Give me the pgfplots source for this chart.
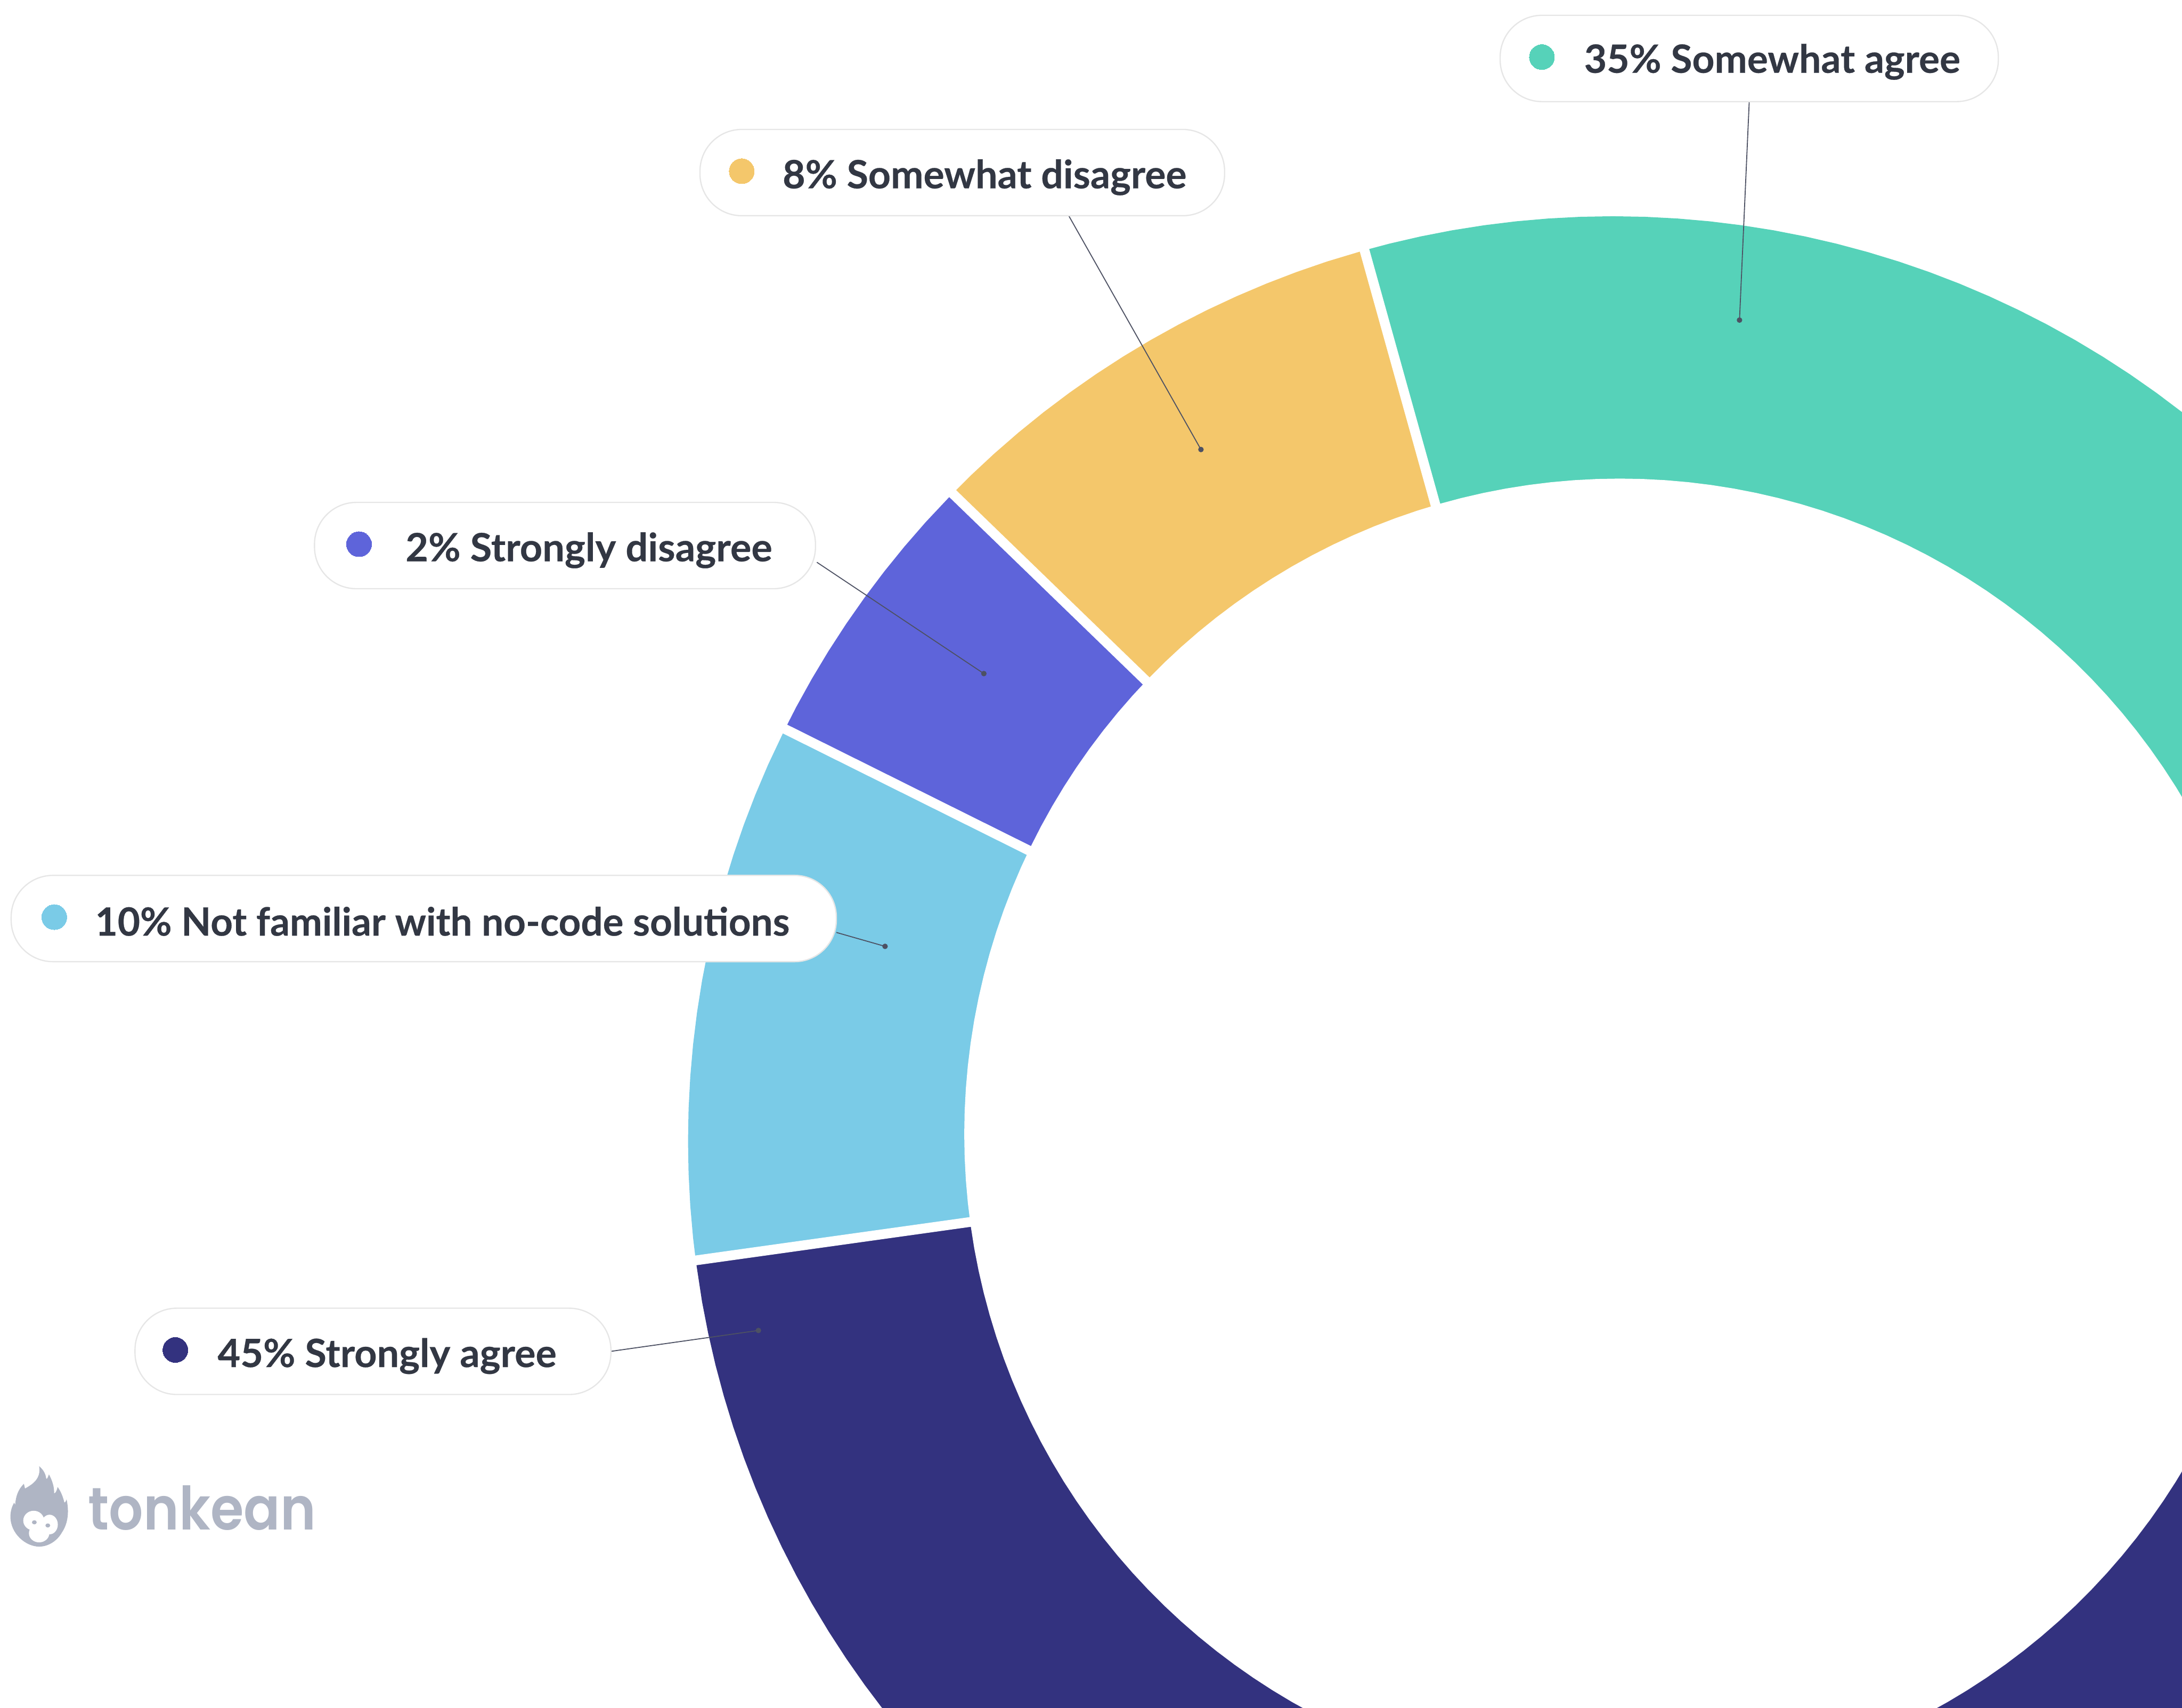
\documentclass[border=0pt]{standalone}
\usepackage{pgfplots}
\usepackage{fontspec}
\pgfplotsset{compat=1.18}
\newfontfamily\lab{Lato}[UprightFont=* Bold, UprightFeatures={FakeBold=0.35}]
\newfontfamily\brand{Poppins}[UprightFont=* SemiBold]
\definecolor{cGreen}{HTML}{56D2B9}
\definecolor{cYellow}{HTML}{F4C76B}
\definecolor{cBlue}{HTML}{5E64DA}
\definecolor{cLight}{HTML}{7ACBE7}
\definecolor{cNavy}{HTML}{33327F}
\definecolor{cText}{HTML}{323743}
\definecolor{cLeader}{HTML}{4D5163}
\definecolor{cPill}{HTML}{E6E6E6}
\definecolor{cBrand}{HTML}{AFB5C4}
\pgfplotsset{
  canvas/.style={
    at={(0,0)}, anchor=south west, scale only axis,
    width=784pt, height=613.5pt, hide axis, clip=true
  },
  slice/.style={draw=none, fill=#1, mark=none, data cs=polar},
  leader/.style={cLeader, line width=0.35pt, mark=*, mark indices={2},
    mark size=0.8pt, mark options={fill=cLeader, draw=cLeader}},
  swatch/.style={only marks, color=#1, mark=*, mark size=4.5pt,
    mark options={fill=#1, draw=#1, line width=0pt}},
  gap/.style={white, line width=3.5pt, mark=none}
}
% pill: left, top, right, bottom
\newcommand{\pill}[4]{\draw[cPill, fill=white, line width=0.45pt, rounded corners=15pt]
  (axis cs:#1,#2) rectangle (axis cs:#3,#4);}
% label: left, baseline, horizontal scale, text
\newcommand{\pilltext}[4]{\node[anchor=base west, inner sep=0pt, text=cText]
  at (axis cs:#1,#2) {\scalebox{#3}[1]{\lab\fontsize{14pt}{16pt}\selectfont #4}};}
\begin{document}
\begin{tikzpicture}
\path[use as bounding box] (0,0) rectangle (784pt,613.5pt);
% ring sectors, angle and radius about the outer circle's centre
\begin{axis}[canvas, xmin=-1159, xmax=409, ymin=-407, ymax=820]
\addplot[slice=cGreen] coordinates {
 (105.69,664.6)(104,664.6)(102,664.6)(100,664.6)(98,664.6)(96,664.6)(94,664.6)(92,664.6)(90,664.6)(88,664.6)(86,664.6)(84,664.6)(82,664.6)(80,664.6)(78,664.6)(76,664.6)(74,664.6)(72,664.6)(70,664.6)(68,664.6)(66,664.6)(64,664.6)(62,664.6)(60,664.6)(58,664.6)(56,664.6)(54,664.6)(52,664.6)(50,664.6)(48,664.6)(45,664.6)(42,664.6)(39,664.6)(36,664.6)(33,664.6)(30,664.6)(27,664.6)(24,664.6)(21,664.6)(18,664.6)(15,664.6)(12,664.6)(9,664.6)(6,664.6)(3,664.6)(0,664.6)(-3,664.6)(-6,664.6)(-9,664.6)(-12,664.6)(-15,664.6)
 (-15,400)(5,400)(25,400)(45,400)(65,400)(85,400)(105.69,400)} --cycle;
\addplot[slice=cYellow] coordinates {
 (135.67,664.6)(134,664.6)(132,664.6)(130,664.6)(128,664.6)(126,664.6)(124,664.6)(122,664.6)(120,664.6)(118,664.6)(116,664.6)(114,664.6)(112,664.6)(110,664.6)(108,664.6)(105.69,664.6)
 (105.69,400)(120,400)(135.67,400)} --cycle;
\addplot[slice=cBlue] coordinates {
 (153.65,664.6)(152,664.6)(150,664.6)(148,664.6)(146,664.6)(144,664.6)(142,664.6)(140,664.6)(138,664.6)(135.67,664.6)
 (135.67,400)(153.65,400)} --cycle;
\addplot[slice=cLight] coordinates {
 (187.48,664.6)(186,664.6)(184,664.6)(182,664.6)(180,664.6)(178,664.6)(176,664.6)(174,664.6)(172,664.6)(170,664.6)(168,664.6)(166,664.6)(164,664.6)(162,664.6)(160,664.6)(158,664.6)(156,664.6)(153.65,664.6)
 (153.65,400)(170,400)(187.48,400)} --cycle;
\addplot[slice=cNavy] coordinates {
 (345,664.6)(342,664.6)(339,664.6)(336,664.6)(333,664.6)(330,664.6)(327,664.6)(324,664.6)(321,664.6)(318,664.6)(315,664.6)(312,664.6)(309,664.6)(306,664.6)(303,664.6)(300,664.6)(297,664.6)(294,664.6)(291,664.6)(288,664.6)(285,664.6)(282,664.6)(279,664.6)(276,664.6)(273,664.6)(270,664.6)(267,664.6)(264,664.6)(261,664.6)(258,664.6)(255,664.6)(252,664.6)(249,664.6)(246,664.6)(243,664.6)(240,664.6)(237,664.6)(234,664.6)(231,664.6)(228,664.6)(225,664.6)(222,664.6)(220,664.6)(218,664.6)(216,664.6)(214,664.6)(212,664.6)(210,664.6)(208,664.6)(206,664.6)(204,664.6)(202,664.6)(200,664.6)(198,664.6)(196,664.6)(194,664.6)(192,664.6)(190,664.6)(187.48,664.6)
 (187.48,400)(205,400)(225,400)(245,400)(265,400)(285,400)(305,400)(325,400)(345,400)} --cycle;
\end{axis}
% the hole, about its own centre
\begin{axis}[canvas, xmin=-1164, xmax=404, ymin=-412, ymax=815]
\addplot[slice=white] coordinates {
 (0,471.1)(10,471.1)(20,471.1)(26,471.1)(28,471.1)(30,471.1)(32,471.1)(34,471.1)(36,471.1)(38,471.1)(40,471.1)(42,471.1)(44,471.1)(46,471.1)(48,471.1)(50,471.1)(52,471.1)(54,471.1)(56,471.1)(58,471.1)(60,471.1)(62,471.1)(64,471.1)(66,471.1)(68,471.1)(70,471.1)(72,471.1)(74,471.1)(76,471.1)(78,471.1)(80,471.1)(82,471.1)(84,471.1)(86,471.1)(88,471.1)(90,471.1)(92,471.1)(94,471.1)(96,471.1)(98,471.1)(100,471.1)(102,471.1)(104,471.1)(106,471.1)(108,471.1)(110,471.1)(112,471.1)(114,471.1)(116,471.1)(118,471.1)(120,471.1)(122,471.1)(124,471.1)(126,471.1)(128,471.1)(130,471.1)(132,471.1)(134,471.1)(136,471.1)(138,471.1)(140,471.1)(142,471.1)(144,471.1)(146,471.1)(148,471.1)(150,471.1)(152,471.1)(154,471.1)(156,471.1)(158,471.1)(160,471.1)(162,471.1)(164,471.1)(166,471.1)(168,471.1)(170,471.1)(172,471.1)(174,471.1)(176,471.1)(178,471.1)
 (180,471.1)(182,471.1)(184,471.1)(186,471.1)(188,471.1)(190,471.1)(192,471.1)(194,471.1)(196,471.1)(198,471.1)(200,471.1)(202,471.1)(204,471.1)(206,471.1)(208,471.1)(210,471.1)(212,471.1)(214,471.1)(216,471.1)(218,471.1)(220,471.1)(222,471.1)(224,471.1)(226,471.1)(228,471.1)(230,471.1)(232,471.1)(234,471.1)(236,471.1)(238,471.1)(240,471.1)(242,471.1)(244,471.1)(250,471.1)(260,471.1)(270,471.1)(280,471.1)(290,471.1)(296,471.1)(298,471.1)(300,471.1)(302,471.1)(304,471.1)(306,471.1)(308,471.1)(310,471.1)(312,471.1)(314,471.1)(316,471.1)(318,471.1)(320,471.1)(322,471.1)(324,471.1)(326,471.1)(328,471.1)(330,471.1)(332,471.1)(334,471.1)(340,471.1)(350,471.1)} --cycle;
\end{axis}
% separators, leaders, pills and labels on one flat canvas
\begin{axis}[canvas, xmin=0, xmax=1568, ymin=0, ymax=1227, y dir=reverse]
\addplot[gap] coordinates {(490.3,907)(707.5,876.6)};
\addplot[gap] coordinates {(555.6,519.6)(748.6,615.7)};
\addplot[gap] coordinates {(678,348.3)(831,496.4)};
\addplot[gap] coordinates {(978,170.8)(1034.3,372.7)};

\addplot[leader] coordinates {(1257,73)(1250,230)};
\addplot[leader] coordinates {(768,155)(863,323)};
\addplot[leader] coordinates {(587,404)(707,484)};
\addplot[leader] coordinates {(601,670)(636,680)};
\addplot[leader] coordinates {(439,971)(545,956)};

\pill{1078}{11}{1436}{73}
\pill{503}{93}{880}{155}
\pill{226}{361}{586}{423}
\pill{8}{629}{601}{691}
\pill{97}{940}{439}{1002}

\addplot[swatch=cGreen] coordinates {(1108,41)};
\addplot[swatch=cYellow] coordinates {(533,123)};
\addplot[swatch=cBlue] coordinates {(258,391)};
\addplot[swatch=cLight] coordinates {(39,659)};
\addplot[swatch=cNavy] coordinates {(126,970)};

\pilltext{1138}{52.3}{1}{35\% Somewhat agree}
\pilltext{562}{135.3}{1.003}{8\% Somewhat disagree}
\pilltext{291}{403.3}{1.011}{2\% Strongly disagree}
\pilltext{68}{672.3}{0.994}{10\% Not familiar with no-code solutions}
\pilltext{156}{982.3}{1.008}{45\% Strongly agree}

\node[anchor=base west, inner sep=0pt, text=cBrand] at (axis cs:63,1099.2)
  {\scalebox{0.9}[1]{\brand\fontsize{21.5pt}{24pt}\selectfont tonkean}};

% flame-shaped brand mark
\begin{scope}[shift={(axis cs:0,1034.2)}, x=0.0781pt, y=-0.0567pt]
\fill[cBrand] (180,170) .. controls (205,200) and (210,225) .. (213,250)
  .. controls (217,255) and (222,235) .. (225,222)
  .. controls (240,260) and (250,300) .. (249,343)
  .. controls (258,340) and (262,320) .. (265,302)
  .. controls (280,330) and (290,365) .. (296,400)
  .. controls (300,402) and (304,392) .. (306,380)
  .. controls (318,450) and (315,530) .. (285,590)
  .. controls (265,640) and (225,680) .. (180,680)
  .. controls (120,680) and (48,600) .. (48,490)
  .. controls (48,455) and (55,425) .. (65,402)
  -- (70,415)
  .. controls (72,360) and (85,315) .. (110,282)
  -- (115,312)
  .. controls (150,285) and (190,250) .. (180,170) -- cycle;
\fill[white] (155,515) ellipse [x radius=3.75pt, y radius=3.52pt];
\fill[white] (228,540) ellipse [x radius=2.97pt, y radius=3.52pt];
\fill[white] (180,595) ellipse [x radius=3.67pt, y radius=3.29pt];
\fill[cBrand] (158,526) ellipse [x radius=0.86pt, y radius=0.74pt];
\fill[cBrand] (220,546) ellipse [x radius=0.86pt, y radius=0.74pt];
\end{scope}
\end{axis}
\end{tikzpicture}
\end{document}
